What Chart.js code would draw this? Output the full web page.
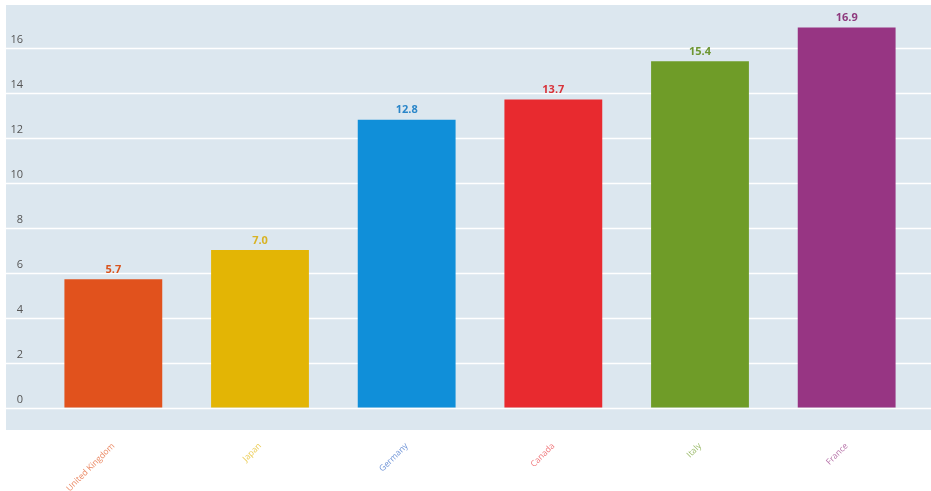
<!DOCTYPE html>
<html>
<head>
<meta charset="utf-8">
<script src="https://cdn.jsdelivr.net/npm/chart.js@4.4.1/dist/chart.umd.min.js"></script>
<style>
  html, body { margin: 0; padding: 0; background: #ffffff; }
  #wrap { width: 931px; height: 491px; position: relative; }
</style>
</head>
<body>
<div id="wrap"><canvas id="c" width="931" height="491"></canvas></div>
<script>
const categories = ["United Kingdom", "Japan", "Germany", "Canada", "Italy", "France"];
const values = [5.7, 7.0, 12.8, 13.7, 15.4, 16.9];
const barColors = ["#E1521D", "#E3B505", "#108FD9", "#E82A2F", "#6F9C28", "#973583"];
const valueLabelColors = ["#D9541E", "#D8B324", "#2A86C9", "#D8333A", "#6E9632", "#8E3A7E"];
const xLabelColors = ["rgba(225,82,29,0.7)", "rgba(227,181,5,0.7)", "rgba(60,110,200,0.75)", "rgba(232,42,47,0.65)", "rgba(111,156,40,0.7)", "rgba(151,53,131,0.7)"];
const yTickValues = [0, 2, 4, 6, 8, 10, 12, 14, 16];

const FONT = "'Open Sans', 'Noto Sans', sans-serif";
const PAD_LEFT = 6;
const PAD_TOP = 5;
const BG = "#DCE7EF";

const bgAndGrid = {
  id: 'bgAndGrid',
  beforeDraw(chart) {
    const ctx = chart.ctx;
    const area = chart.chartArea;
    const y = chart.scales.y;
    ctx.save();
    ctx.fillStyle = BG;
    ctx.fillRect(PAD_LEFT, area.top, chart.width - PAD_LEFT, area.bottom - area.top);
    ctx.strokeStyle = "#FFFFFF";
    ctx.lineWidth = 1.5;
    yTickValues.forEach(v => {
      const py = Math.round(y.getPixelForValue(v)) + 0.5;
      ctx.beginPath();
      ctx.moveTo(PAD_LEFT, py);
      ctx.lineTo(chart.width, py);
      ctx.stroke();
    });
    ctx.restore();
  },
  afterDatasetsDraw(chart) {
    const ctx = chart.ctx;
    const meta = chart.getDatasetMeta(0);
    ctx.save();
    ctx.font = "bold 11px " + FONT;
    ctx.textAlign = "center";
    ctx.textBaseline = "bottom";
    meta.data.forEach((bar, i) => {
      ctx.fillStyle = valueLabelColors[i];
      ctx.fillText(values[i].toFixed(1), bar.x, bar.y - 4);
    });
    ctx.restore();
  }
};

new Chart(document.getElementById('c'), {
  type: 'bar',
  data: {
    labels: categories,
    datasets: [{
      data: values,
      backgroundColor: barColors,
      borderWidth: 0,
      barPercentage: 0.667,
      categoryPercentage: 1.0
    }]
  },
  options: {
    responsive: false,
    animation: false,
    layout: { padding: { left: PAD_LEFT, right: 11, top: PAD_TOP, bottom: 0 } },
    plugins: {
      legend: { display: false },
      tooltip: { enabled: false }
    },
    scales: {
      x: {
        grid: { display: false },
        border: { display: false },
        afterFit: (scale) => { scale.height = 61; scale.paddingLeft = 0; scale.paddingRight = 0; },
        ticks: {
          maxRotation: 45,
          minRotation: 45,
          padding: 3,
          font: { size: 8.5, family: FONT },
          color: (c) => xLabelColors[c.index]
        }
      },
      y: {
        min: -1,
        max: 17.9,
        grid: { display: false },
        border: { display: false },
        afterBuildTicks: (scale) => { scale.ticks = yTickValues.map(v => ({ value: v })); },
        afterFit: (scale) => { scale.width = 34; scale.paddingTop = 0; scale.paddingBottom = 0; },
        ticks: {
          padding: 9,
          labelOffset: -8,
          font: { size: 11, family: FONT },
          color: "#555555"
        }
      }
    }
  },
  plugins: [bgAndGrid]
});
</script>
</body>
</html>
